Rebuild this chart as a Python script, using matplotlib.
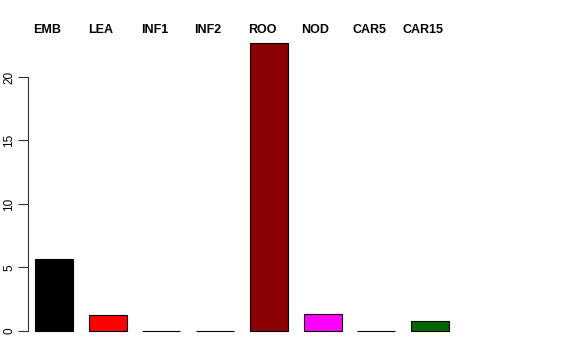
import matplotlib
matplotlib.use("Agg")
import matplotlib.pyplot as plt
import numpy as np

tejidos = ["EMB", "LEA", "INF1", "INF2", "ROO", "NOD", "CAR5", "CAR15"]
valores = [5.67, 1.28, 0.03, 0.03, 22.68, 1.34, 0.03, 0.75]
colores = ["black", "red", "blue", "cyan", "#8B0000", "magenta", "orange", "#006400"]
yticks = [0, 5, 10, 15, 20]

plt.rcParams['font.family'] = ['Liberation Sans', 'DejaVu Sans']

fig = plt.figure(figsize=(5.76, 3.6), dpi=100)
# region del grafico en pixeles (como el par(mar) de R)
izq, der, arriba, abajo = 28, 560, 31.4, 342.5
ax = fig.add_axes([izq / 576, (360 - abajo) / 360, (der - izq) / 576, (abajo - arriba) / 360])

pos = np.arange(len(tejidos))
ax.bar(pos, valores, width=0.71, color=colores, edgecolor="black", linewidth=0.8)

ax.set_xlim(-0.484, 9.42)
ax.set_ylim(-0.907, 23.59)

for s in ["top", "right", "bottom"]:
    ax.spines[s].set_visible(False)
ax.spines["left"].set_bounds(0, 20)
ax.spines["left"].set_linewidth(0.8)
ax.spines["left"].set_color("#333333")
ax.set_xticks([])
ax.set_yticks(yticks)
ax.set_yticklabels([str(t) for t in yticks], rotation=90, va="center", fontsize=8.5)
ax.tick_params(axis="y", length=7, width=0.8, color="#333333", pad=2)

for p, t in zip(pos, tejidos):
    ax.text(p - 0.13, 1.0045, t, transform=ax.get_xaxis_transform(),
            ha="center", va="center", fontsize=9, fontweight="bold")

fig.savefig("out.png", dpi=100)
